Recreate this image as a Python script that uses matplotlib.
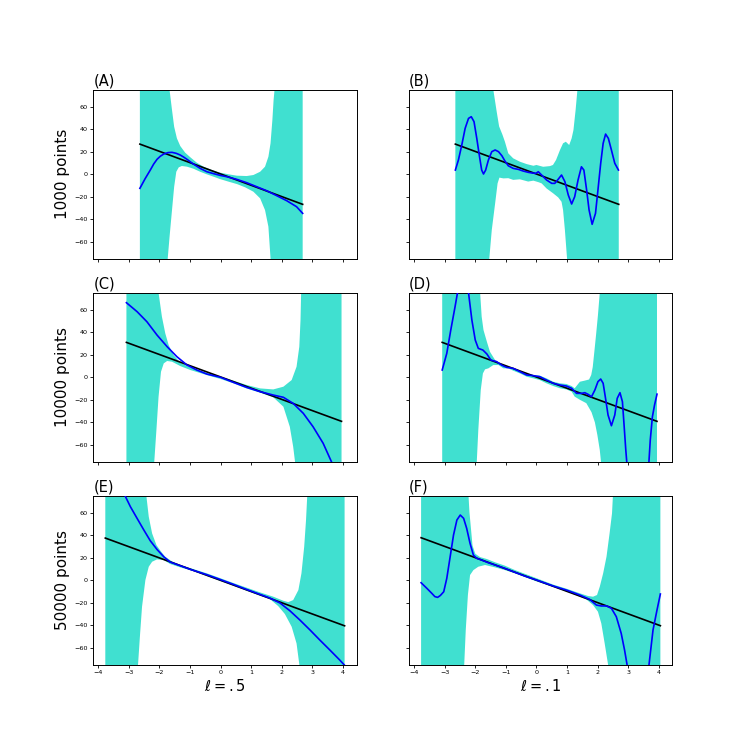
import numpy as np
import matplotlib
matplotlib.use("Agg")
import matplotlib.pyplot as plt

# ---------------- data ----------------
panel_labels = ["(A)", "(B)", "(C)", "(D)", "(E)", "(F)"]
row_labels = ["1000 points", "10000 points", "50000 points"]
col_labels = [r"$\ell=.5$", r"$\ell=.1$"]
x_ticks = [-4, -3, -2, -1, 0, 1, 2, 3, 4]
y_ticks = [-60, -40, -20, 0, 20, 40, 60]

# Panel A
A_line_x = [-2.64, 2.68]
A_line_y = [26.7, -26.7]
A_mean_x = [-2.64, -2.47, -2.30, -2.19, -2.08, -1.97, -1.86, -1.72, -1.59, -1.45, -1.32,
            -1.21, -1.10, -0.89, -0.67, -0.45, -0.23, -0.02, 0.20, 0.53, 0.85, 1.18,
            1.50, 1.83, 2.16, 2.48, 2.68]
A_mean_y = [-12.5, -4.0, 3.7, 9.0, 13.2, 16.0, 17.9, 19.2, 19.4, 18.5, 17.0,
            15.2, 13.2, 9.0, 5.2, 2.2, 0.5, -1.0, -2.2, -4.6, -7.5, -11.1,
            -14.6, -19.0, -23.5, -28.8, -34.7]
A_up_x = [-2.64, -1.67, -1.59, -1.52, -1.43, -1.32, -1.16, -0.99, -0.78, -0.56, -0.29,
          -0.02, 0.26, 0.53, 0.85, 1.07, 1.29, 1.45, 1.56, 1.63, 1.69, 1.73, 1.76, 2.68]
A_up_y = [400, 74.6, 56.9, 42.1, 31.8, 25.0, 19.1, 15.0, 10.2, 6.7, 3.7,
          1.4, -0.1, -1.3, -1.6, -0.7, 2.2, 6.7, 15.5, 27.4, 48.0, 65.8, 74.6, 400]
A_lo_x = [-2.64, -1.73, -1.67, -1.59, -1.52, -1.45, -1.37, -1.27, -1.10, -0.89, -0.67,
          -0.45, -0.23, -0.02, 0.26, 0.53, 0.80, 1.07, 1.29, 1.45, 1.56, 1.63, 2.68]
A_lo_y = [-400, -74.6, -55.4, -31.7, -11.1, 2.2, 6.1, 7.3, 6.7, 4.9, 2.2,
          -0.1, -2.2, -4.3, -6.6, -8.7, -11.6, -15.5, -21.4, -31.8, -46.5, -74.6, -400]

# Panel B
B_line_x = [-2.65, 2.69]
B_line_y = [26.7, -26.7]
B_mean_x = [-2.65, -2.55, -2.44, -2.33, -2.22, -2.13, -2.04, -1.95, -1.86, -1.79,
            -1.73, -1.66, -1.57, -1.46, -1.35, -1.24, -1.13, -1.03, -0.92, -0.76,
            -0.59, -0.43, -0.27, -0.12, -0.02, 0.06, 0.17, 0.33, 0.50, 0.60,
            0.71, 0.82, 0.93, 1.04, 1.15, 1.25, 1.36, 1.47, 1.55, 1.64,
            1.72, 1.82, 1.93, 2.01, 2.10, 2.18, 2.26, 2.35, 2.45, 2.56, 2.68]
B_mean_y = [3.7, 12.6, 25.9, 40.7, 49.5, 51.0, 46.6, 31.8, 15.5, 3.7,
            0.2, 3.7, 12.6, 20.0, 21.5, 20.0, 16.4, 11.7, 7.5, 5.2,
            4.3, 2.8, 1.7, 1.0, 0.8, 2.2, -0.7, -5.1, -8.1, -8.1,
            -4.5, -0.7, -6.6, -18.4, -26.4, -19.9, -5.1, 6.6, 3.7, -14.0,
            -31.7, -44.4, -34.7, -14.0, 9.7, 27.4, 35.6, 31.8, 21.5, 9.7, 3.7]
B_up_x = [-2.65, -1.41, -1.30, -1.22, -1.11, -1.03, -0.92, -0.76, -0.54, -0.32, -0.10,
          0.00, 0.22, 0.44, 0.54, 0.64, 0.77, 0.87, 0.96, 1.07, 1.15, 1.21, 1.28, 1.34, 2.69]
B_up_y = [400, 75.0, 55.6, 42.4, 35.0, 28.8, 18.5, 14.1, 11.1, 9.0, 7.5,
          8.2, 6.6, 7.2, 8.2, 12.6, 21.5, 27.4, 28.8, 25.9, 31.8, 39.2, 56.9, 75.0, 400]
B_lo_x = [-2.65, -1.54, -1.46, -1.35, -1.27, -1.21, -1.08, -0.92, -0.76, -0.54, -0.27,
          -0.10, 0.06, 0.17, 0.33, 0.55, 0.71, 0.82, 0.87, 0.93, 1.00, 2.69]
B_lo_y = [-400, -74.6, -49.5, -25.8, -8.1, -3.0, -3.7, -3.5, -5.0, -4.5, -6.5,
          -5.7, -7.0, -8.1, -12.6, -17.0, -20.5, -24.4, -31.7, -49.4, -74.6, -400]

# Panel C
C_line_x = [-3.08, 3.95]
C_line_y = [30.9, -39.1]
C_mean_x = [-3.08, -2.73, -2.41, -2.08, -1.75, -1.43, -1.10, -0.78, -0.45, 0.00, 0.42,
            0.85, 1.29, 1.72, 2.05, 2.37, 2.70, 3.02, 3.35, 3.62, 3.95]
C_mean_y = [66.1, 58.1, 49.2, 37.4, 27.1, 18.2, 10.8, 6.4, 2.8, -0.1, -4.6,
            -9.0, -12.8, -15.8, -17.8, -23.2, -32.0, -43.9, -58.6, -74.9, -95.0]
C_up_x = [-3.08, -2.03, -1.92, -1.81, -1.70, -1.54, -1.32, -0.99, -0.45, 0.00, 0.42,
          0.85, 1.29, 1.72, 2.05, 2.32, 2.48, 2.57, 2.61, 2.63, 3.95]
C_up_y = [400, 74.9, 53.7, 38.9, 28.5, 19.7, 12.9, 8.7, 4.0, 0.5, -3.1,
          -6.9, -9.9, -10.8, -8.4, -2.5, 9.3, 27.0, 50.7, 74.9, 400]
C_lo_x = [-3.08, -2.17, -2.10, -2.03, -1.95, -1.86, -1.75, -1.59, -1.32, -0.99, -0.45,
          0.00, 0.42, 0.85, 1.29, 1.72, 2.05, 2.26, 2.37, 2.43, 3.95]
C_lo_y = [-400, -74.9, -46.8, -17.3, 4.9, 12.3, 14.4, 13.8, 9.9, 6.4, 1.9,
          -1.6, -5.4, -10.0, -13.7, -17.8, -26.1, -43.9, -61.6, -74.9, -400]

# Panel D
D_line_x = [-3.08, 3.94]
D_line_y = [30.9, -39.1]
D_mean_x = [-3.08, -2.93, -2.80, -2.66, -2.58, -2.41, -2.22, -2.11, -2.00, -1.90, -1.75,
            -1.62, -1.49, -1.30, -1.14, -0.97, -0.76, -0.54, -0.32, -0.10, 0.11, 0.33,
            0.55, 0.77, 0.98, 1.15, 1.31, 1.47, 1.58, 1.69, 1.80, 1.91, 2.01, 2.10,
            2.18, 2.25, 2.34, 2.45, 2.56, 2.64, 2.73, 2.81, 2.86, 2.92, 2.96, 3.31,
            3.67, 3.72, 3.79, 3.86, 3.94]
D_mean_y = [6.4, 21.2, 41.8, 62.5, 74.9, 89.1, 74.9, 50.7, 33.0, 25.6, 24.1,
            20.6, 15.2, 13.8, 10.8, 8.7, 7.9, 4.9, 2.0, 1.4, 0.5, -2.5,
            -5.4, -6.9, -7.8, -9.8, -14.3, -14.3, -13.7, -15.2, -17.3, -11.3, -3.9, -1.6,
            -5.4, -17.3, -33.5, -43.0, -33.5, -18.7, -13.7, -21.7, -40.9, -64.5, -77.8, -140.0,
            -77.8, -55.7, -35.0, -24.6, -15.0]
D_up_x = [-3.08, -1.84, -1.79, -1.73, -1.62, -1.52, -1.35, -1.19, -1.03, -0.81, -0.59,
          -0.38, -0.10, 0.11, 0.33, 0.55, 0.77, 0.98, 1.15, 1.25, 1.42, 1.58, 1.72,
          1.79, 1.84, 1.89, 1.95, 2.01, 2.07, 3.94]
D_up_y = [400, 74.9, 53.7, 41.8, 31.5, 22.6, 15.2, 12.3, 9.9, 8.7, 6.4,
          3.4, 2.0, 1.4, -1.0, -4.0, -5.4, -6.0, -7.8, -9.8, -4.0, -3.0, -2.0,
          2.0, 9.0, 22.0, 38.0, 55.0, 75.0, 400]
D_lo_x = [-3.08, -1.95, -1.90, -1.82, -1.75, -1.68, -1.57, -1.41, -1.24, -1.08, -0.92,
          -0.76, -0.54, -0.32, -0.10, 0.11, 0.33, 0.55, 0.77, 0.98, 1.15, 1.25, 1.42,
          1.63, 1.80, 1.91, 1.99, 2.07, 2.11, 3.94]
D_lo_y = [-400, -74.9, -46.8, -11.3, 3.4, 7.0, 7.9, 10.8, 10.8, 7.9, 7.9,
          5.8, 3.4, 0.5, -1.0, -2.5, -5.4, -7.8, -9.8, -10.8, -12.8, -17.2, -20.0,
          -23.0, -31.0, -40.0, -51.0, -64.5, -75.0, -400]

# Panel E
E_line_x = [-3.77, 4.05]
E_line_y = [37.4, -40.4]
E_mean_x = [-3.77, -3.13, -2.95, -2.73, -2.51, -2.30, -2.08, -1.86, -1.65, -1.32, -0.99,
            -0.45, 0.00, 0.42, 0.85, 1.29, 1.61, 1.94, 2.26, 2.59, 2.92, 3.24, 3.57,
            3.89, 4.05]
E_mean_y = [97.0, 75.2, 65.2, 54.8, 44.5, 35.0, 27.3, 20.8, 16.1, 12.9, 9.6,
            4.9, 0.5, -3.7, -8.2, -12.6, -15.8, -20.2, -27.0, -35.3, -44.1, -53.0, -61.9,
            -70.7, -75.4]
E_up_x = [-3.77, -2.43, -2.35, -2.24, -2.10, -1.97, -1.81, -1.59, -1.32, -0.89, -0.45,
          0.00, 0.42, 0.85, 1.29, 1.72, 2.05, 2.21, 2.37, 2.54, 2.64, 2.73, 2.79, 2.83, 4.05]
E_up_y = [400, 75.2, 56.3, 41.5, 31.2, 26.2, 20.8, 16.7, 13.5, 9.9, 6.1,
          1.7, -2.5, -6.6, -10.8, -14.6, -18.2, -19.4, -17.6, -8.7, 6.1, 29.7, 53.4, 75.2, 400]
E_lo_x = [-3.77, -2.70, -2.64, -2.57, -2.46, -2.35, -2.24, -2.08, -1.86, -1.65, -1.32,
          -0.89, -0.45, 0.00, 0.42, 0.85, 1.29, 1.61, 1.88, 2.10, 2.32, 2.48, 2.57, 4.05]
E_lo_y = [-400, -74.6, -50.1, -23.5, 0.2, 12.0, 16.4, 18.5, 17.9, 14.4, 11.4,
          8.1, 3.7, -0.7, -4.9, -9.3, -13.7, -16.7, -22.9, -30.0, -41.2, -56.0, -74.6, -400]

# Panel F
F_line_x = [-3.77, 4.05]
F_line_y = [37.7, -40.3]
F_mean_x = [-3.77, -3.58, -3.42, -3.32, -3.23, -3.14, -3.03, -2.93, -2.82, -2.71, -2.60,
            -2.49, -2.38, -2.28, -2.17, -2.06, -1.95, -1.79, -1.57, -1.35, -1.03,
            -0.70, -0.38, 0.00, 0.55, 0.98, 1.42, 1.74, 1.96, 2.12, 2.29, 2.45, 2.61,
            2.77, 2.88, 2.96, 3.32, 3.68, 3.81, 3.94, 4.05]
F_mean_y = [-2.2, -7.2, -11.6, -14.5, -15.2, -13.5, -10.2, 1.7, 20.8, 40.1, 53.4,
            57.8, 54.9, 46.0, 32.7, 22.3, 19.4, 17.9, 15.5, 13.5, 10.5,
            7.0, 3.7, 0.2, -5.1, -8.7, -13.1, -17.0, -22.0, -22.8, -22.8, -24.9, -32.3,
            -47.1, -61.9, -74.6, -150.0, -74.6, -44.1, -26.4, -12.2]
F_up_x = [-3.77, -2.22, -2.19, -2.13, -2.09, -2.00, -1.84, -1.62, -1.35, -1.03, -0.70,
          0.00, 0.55, 0.98, 1.42, 1.69, 1.85, 1.98, 2.07, 2.18, 2.29, 2.39, 2.47, 2.50, 4.05]
F_up_y = [400, 75.0, 60.5, 42.8, 30.9, 23.5, 20.5, 18.8, 15.9, 12.9, 9.0,
          1.8, -3.9, -7.5, -11.6, -14.0, -14.6, -13.1, -5.7, 6.1, 20.9, 41.5, 59.3, 75.2, 400]
F_lo_x = [-3.77, -2.36, -2.31, -2.24, -2.17, -2.06, -1.90, -1.68, -1.35, -1.03, -0.70,
          0.00, 0.55, 0.98, 1.42, 1.63, 1.85, 2.01, 2.12, 2.23, 2.34, 4.05]
F_lo_y = [-400, -74.6, -44.1, -13.1, 4.6, 9.0, 12.0, 13.5, 11.4, 9.0, 6.1,
          -1.0, -6.0, -9.9, -14.6, -17.0, -22.0, -27.9, -38.3, -56.0, -74.6, -400]

# ---------------- build per-panel tables ----------------
panels = [
    (A_mean_x, A_mean_y, A_up_x, A_up_y, A_lo_x, A_lo_y, A_line_x, A_line_y),
    (B_mean_x, B_mean_y, B_up_x, B_up_y, B_lo_x, B_lo_y, B_line_x, B_line_y),
    (C_mean_x, C_mean_y, C_up_x, C_up_y, C_lo_x, C_lo_y, C_line_x, C_line_y),
    (D_mean_x, D_mean_y, D_up_x, D_up_y, D_lo_x, D_lo_y, D_line_x, D_line_y),
    (E_mean_x, E_mean_y, E_up_x, E_up_y, E_lo_x, E_lo_y, E_line_x, E_line_y),
    (F_mean_x, F_mean_y, F_up_x, F_up_y, F_lo_x, F_lo_y, F_line_x, F_line_y),
]

fig, axes = plt.subplots(3, 2, figsize=(7.47, 7.47), dpi=100, sharex=True, sharey=True)
fig.subplots_adjust(left=0.125, right=0.9, bottom=0.11, top=0.88, wspace=0.2, hspace=0.2)

for i, ax in enumerate(axes.flat):
    mx, my, ux, uy, lx, ly, kx, ky = panels[i]
    poly_x = np.concatenate([ux, lx[::-1]])
    poly_y = np.concatenate([uy, ly[::-1]])
    ax.fill(poly_x, poly_y, color="turquoise", lw=0, zorder=1)
    ax.plot(kx, ky, color="black", lw=1.2, zorder=2)
    ax.plot(mx, my, color="blue", lw=1.2, zorder=3, solid_joinstyle="round")
    ax.set_title(panel_labels[i], loc="left", fontsize=10.5, pad=3)
    ax.set_xlim(-4.16, 4.44)
    ax.set_ylim(-75, 75)
    ax.set_xticks(x_ticks)
    ax.set_yticks(y_ticks)
    ax.tick_params(labelsize=4.6, length=2.4, width=0.6, pad=1.6)
    for s in ax.spines.values():
        s.set_linewidth(0.7)

for r in range(3):
    axes[r, 0].set_ylabel(row_labels[r], fontsize=11, labelpad=3)
for c in range(2):
    axes[2, c].set_xlabel(col_labels[c], fontsize=10.5, labelpad=2)

fig.savefig("out.png", dpi=100)
